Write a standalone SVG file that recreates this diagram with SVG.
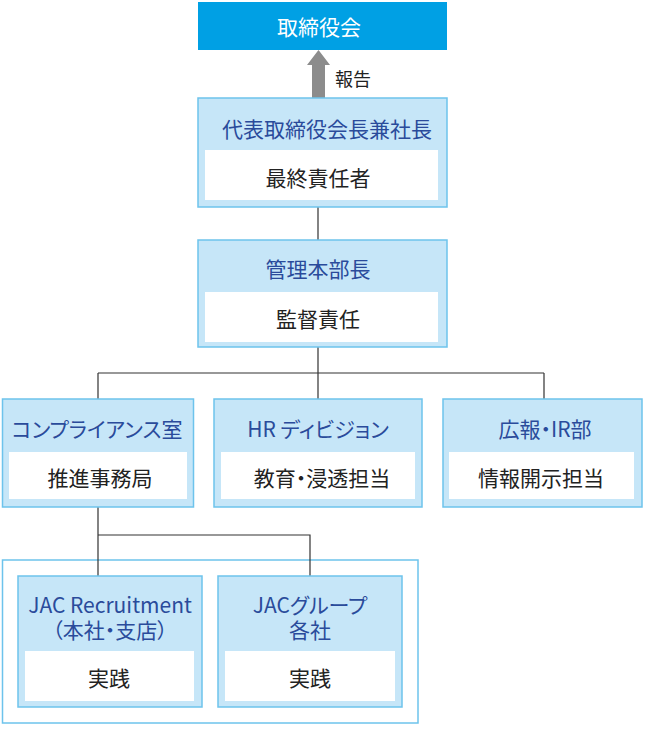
<svg xmlns="http://www.w3.org/2000/svg" width="645" height="729" viewBox="0 0 645 729">
<style>
.box{fill:#c6e6f8;stroke:#6dc3ec;stroke-width:1.5}
.inner{fill:#ffffff}
.title{font-family:"Noto Sans CJK JP","Noto Sans",sans-serif;font-size:21px;fill:#2a4b9b;text-anchor:middle;dominant-baseline:central}
.body{font-family:"Noto Sans CJK JP","Noto Sans",sans-serif;font-size:21px;fill:#222222;text-anchor:middle;dominant-baseline:central}
.p{font-feature-settings:"palt"}
.conn{stroke:#333333;stroke-width:1.2;fill:none}
</style>
<rect width="645" height="729" fill="#ffffff"/>
<g id="group-container">
<rect x="2.5" y="560" width="415.5" height="163" fill="#ffffff" stroke="#6dc3ec" stroke-width="1.5"/>
</g>
<g id="connectors">
<path class="conn" d="M318 207V240M318 347V373M98 373H544M98 373V399M318 373V399M544 373V399M98 507V535H310V576M98 535V576"/>
<polygon points="318.5,50 330,65 325,65 325,98 312,98 312,65 307,65" fill="#8c8c8c"/>
<text x="335" y="78" font-family="Noto Sans CJK JP,sans-serif" font-size="18" fill="#222222" dominant-baseline="central">報告</text>
</g>
<g id="board">
<rect x="198" y="2" width="249" height="48" fill="#00a0e4"/>
<text x="319" y="26" class="title" style="fill:#ffffff">取締役会</text>
</g>
<g id="ceo">
<rect class="box" x="198" y="98" width="249" height="109"/>
<text x="327" y="128" class="title">代表取締役会長兼社長</text>
<rect class="inner" x="205" y="150" width="233" height="50"/>
<text x="318" y="177" class="body">最終責任者</text>
</g>
<g id="admin">
<rect class="box" x="198" y="240" width="249" height="107"/>
<text x="318" y="268" class="title">管理本部長</text>
<rect class="inner" x="205" y="292" width="233" height="50"/>
<text x="318" y="318" class="body">監督責任</text>
</g>
<g id="compliance">
<rect class="box" x="2.5" y="399" width="191" height="108"/>
<text x="97" y="428" class="title p">コンプライアンス室</text>
<rect class="inner" x="9" y="452" width="178" height="47"/>
<text x="100" y="477" class="body">推進事務局</text>
</g>
<g id="hr">
<rect class="box" x="214" y="399" width="208" height="108"/>
<text x="318" y="428" class="title p">HR ディビジョン</text>
<rect class="inner" x="221" y="452" width="194" height="47"/>
<text x="322" y="477" class="body p">教育・浸透担当</text>
</g>
<g id="pr">
<rect class="box" x="443" y="399" width="199" height="108"/>
<text x="545" y="428" class="title p">広報・IR部</text>
<rect class="inner" x="449" y="452" width="185" height="47"/>
<text x="541" y="477" class="body">情報開示担当</text>
</g>
<g id="jac-recruitment">
<rect class="box" x="18" y="576" width="184" height="131"/>
<text class="title"><tspan x="110" y="604">JAC Recruitment</tspan><tspan class="p" x="110" y="629">（本社・支店）</tspan></text>
<rect class="inner" x="25" y="651" width="169" height="50"/>
<text x="109" y="677" class="body">実践</text>
</g>
<g id="jac-group">
<rect class="box" x="218" y="576" width="184" height="131"/>
<text class="title p"><tspan x="310" y="604">JACグループ</tspan><tspan x="310" y="629">各社</tspan></text>
<rect class="inner" x="225" y="651" width="170" height="50"/>
<text x="310" y="677" class="body">実践</text>
</g>
</svg>
